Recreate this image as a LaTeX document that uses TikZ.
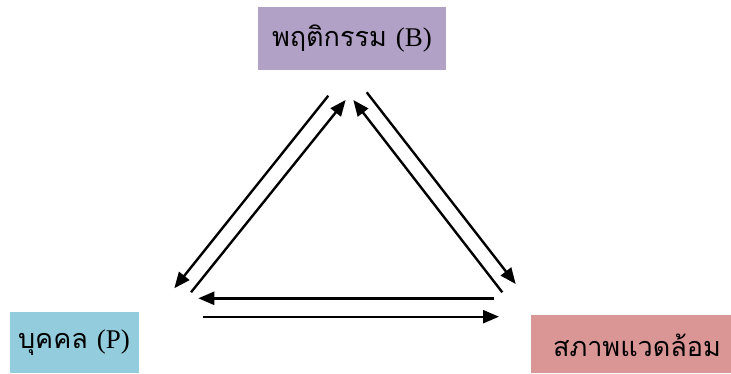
\documentclass[tikz,border=0pt]{standalone}
\usepackage{fontspec}
\newfontfamily\thaifont[Script=Thai]{Loma}
\newfontfamily\latinserif{Liberation Serif}
\usetikzlibrary{arrows.meta}
\definecolor{bpurple}{HTML}{B2A1C7}
\definecolor{pblue}{HTML}{93CDDD}
\definecolor{ered}{HTML}{D99694}
\tikzset{
  labelbox/.style={inner sep=0pt, anchor=center, font=\thaifont\fontsize{27}{32}\selectfont},
  arr/.style={line width=2.4pt, -{Triangle[length=16pt,width=13pt]}}
}
\begin{document}
\begin{tikzpicture}[x=1pt,y=-1pt]
\useasboundingbox (0,0) rectangle (731,374);
\fill[bpurple] (258,7) rectangle (446,70);
\fill[pblue] (10,312) rectangle (139,373);
\fill[ered] (531,315) rectangle (731,373);
\node[labelbox] (B) at (352,39) {พฤติกรรม {\latinserif (B)}};
\node[labelbox] (P) at (74,343) {บุคคล {\latinserif (P)}};
\node[labelbox] (E) at (637,345) {สภาพแวดล้อม};
% endpoints
\coordinate (a1) at (328.3,95.7);  \coordinate (a2) at (174.3,288.3);
\coordinate (b1) at (191,292.3);   \coordinate (b2) at (345.7,100);
\coordinate (c1) at (366.7,92.3);  \coordinate (c2) at (515.7,284);
\coordinate (d1) at (502.3,292.3); \coordinate (d2) at (353.3,100);
\coordinate (e1) at (494.3,298.3); \coordinate (e2) at (198.3,298.3);
\coordinate (f1) at (202.7,316.7); \coordinate (f2) at (499,316.7);
\draw[arr] (a1) -- (a2);
\draw[arr] (b1) -- (b2);
\draw[arr] (c1) -- (c2);
\draw[arr] (d1) -- (d2);
\draw[arr] (e1) -- (e2);
\draw[arr] (f1) -- (f2);
\end{tikzpicture}
\end{document}
